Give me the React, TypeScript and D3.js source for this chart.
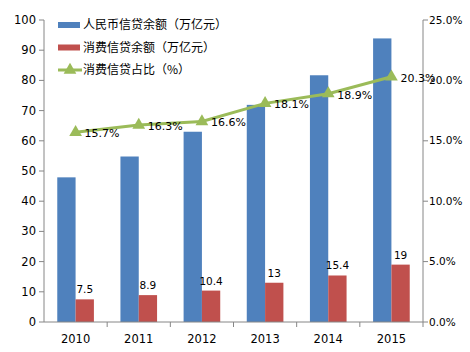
import { scaleBand, scaleLinear, line, symbol, symbolTriangle } from 'd3'

const years = ['2010', '2011', '2012', '2013', '2014', '2015']
const rmbLoans = [47.9, 54.8, 63.0, 71.9, 81.7, 93.9]
const consumerLoans = [7.5, 8.9, 10.4, 13, 15.4, 19]
const consumerShare = [15.7, 16.3, 16.6, 18.1, 18.9, 20.3]
const leftTicks = [0, 10, 20, 30, 40, 50, 60, 70, 80, 90, 100]
const rightTicks = [0, 5, 10, 15, 20, 25]
const legendNames = ['人民币信贷余额（万亿元）', '消费信贷余额（万亿元）', '消费信贷占比（%）']

const width = 470,
      height = 352,
      margin = { top: 20, right: 47, bottom: 30, left: 44 },
      innerWidth = width - margin.left - margin.right,
      innerHeight = height - margin.top - margin.bottom,
      blue = '#4F81BD',
      red = '#C0504D',
      green = '#9BBB59',
      axisColor = '#868686',
      font = '"DejaVu Sans", Verdana, sans-serif',
      cjk = '"Noto Sans CJK SC", sans-serif'

export default function App() {
  const x = scaleBand().domain(years).range([0, innerWidth])
  const yL = scaleLinear().domain([0, 100]).range([innerHeight, 0])
  const yR = scaleLinear().domain([0, 25]).range([innerHeight, 0])
  const bw = x.bandwidth() * 0.29
  const cx = (i: number) => (x(years[i]) as number) + x.bandwidth() / 2

  const pathLine = line<number>()
    .x((_, i) => cx(i))
    .y(d => yR(d))
  const tri = symbol().type(symbolTriangle).size(70)()

  return (
    <svg width={width} height={height} style={{ position: 'absolute', left: 0, top: 0, background: '#fff' }}>
      <g transform={`translate(${margin.left}, ${margin.top})`}>
        {/* bars */}
        {years.map((yr, i) => (
          <g key={yr}>
            <rect x={cx(i) - bw} y={yL(rmbLoans[i])} width={bw} height={innerHeight - yL(rmbLoans[i])} fill={blue} />
            <rect x={cx(i)} y={yL(consumerLoans[i])} width={bw} height={innerHeight - yL(consumerLoans[i])} fill={red} />
            <text x={cx(i) + bw / 2} y={yL(consumerLoans[i]) - 6} textAnchor='middle'
              style={{ fontFamily: font, fontSize: 10.5 }}>{consumerLoans[i]}</text>
          </g>
        ))}

        {/* left axis */}
        <line x1={0} x2={0} y1={0} y2={innerHeight} stroke={axisColor} />
        {leftTicks.map(t => (
          <g key={t} transform={`translate(0, ${yL(t)})`}>
            <line x1={-5} x2={0} stroke={axisColor} />
            <text x={-8} dy='0.35em' textAnchor='end' style={{ fontFamily: font, fontSize: 11.5 }}>{t}</text>
          </g>
        ))}

        {/* right axis */}
        <line x1={innerWidth} x2={innerWidth} y1={0} y2={innerHeight} stroke={axisColor} />
        {rightTicks.map(t => (
          <g key={t} transform={`translate(${innerWidth}, ${yR(t)})`}>
            <line x1={0} x2={5} stroke={axisColor} />
            <text x={6} dy='0.35em' style={{ fontFamily: font, fontSize: 10.5 }}>{t.toFixed(1)}%</text>
          </g>
        ))}

        {/* bottom axis */}
        <line x1={0} x2={innerWidth} y1={innerHeight} y2={innerHeight} stroke={axisColor} />
        {years.map((yr, i) => (
          <g key={yr}>
            <line x1={(x(yr) as number) + x.bandwidth()} x2={(x(yr) as number) + x.bandwidth()}
              y1={innerHeight} y2={innerHeight + 5} stroke={axisColor} />
            <text x={cx(i)} y={innerHeight + 21} textAnchor='middle' style={{ fontFamily: font, fontSize: 11.5 }}>{yr}</text>
          </g>
        ))}

        {/* share line */}
        <path d={pathLine(consumerShare) as string} fill='none' stroke={green} strokeWidth={3} />
        {consumerShare.map((v, i) => (
          <g key={i} transform={`translate(${cx(i)}, ${yR(v)})`}>
            <path d={tri as string} fill={green} />
            <text x={9} dy='0.45em' style={{ fontFamily: font, fontSize: 11 }}>{v.toFixed(1)}%</text>
          </g>
        ))}
      </g>

      {/* legend */}
      <g transform='translate(58, 25)'>
        {legendNames.map((name, i) => (
          <g key={name} transform={`translate(0, ${i * 22.5})`}>
            {i < 2
              ? <rect x={0} y={-3} width={22} height={6} fill={i === 0 ? blue : red} />
              : <g>
                  <line x1={0} x2={24} stroke={green} strokeWidth={3} />
                  <path d={tri as string} transform='translate(12, 0)' fill={green} />
                </g>}
            <text x={25} dy='0.35em' style={{ fontFamily: cjk, fontSize: 12 }}>{name}</text>
          </g>
        ))}
      </g>
    </svg>
  )
}
